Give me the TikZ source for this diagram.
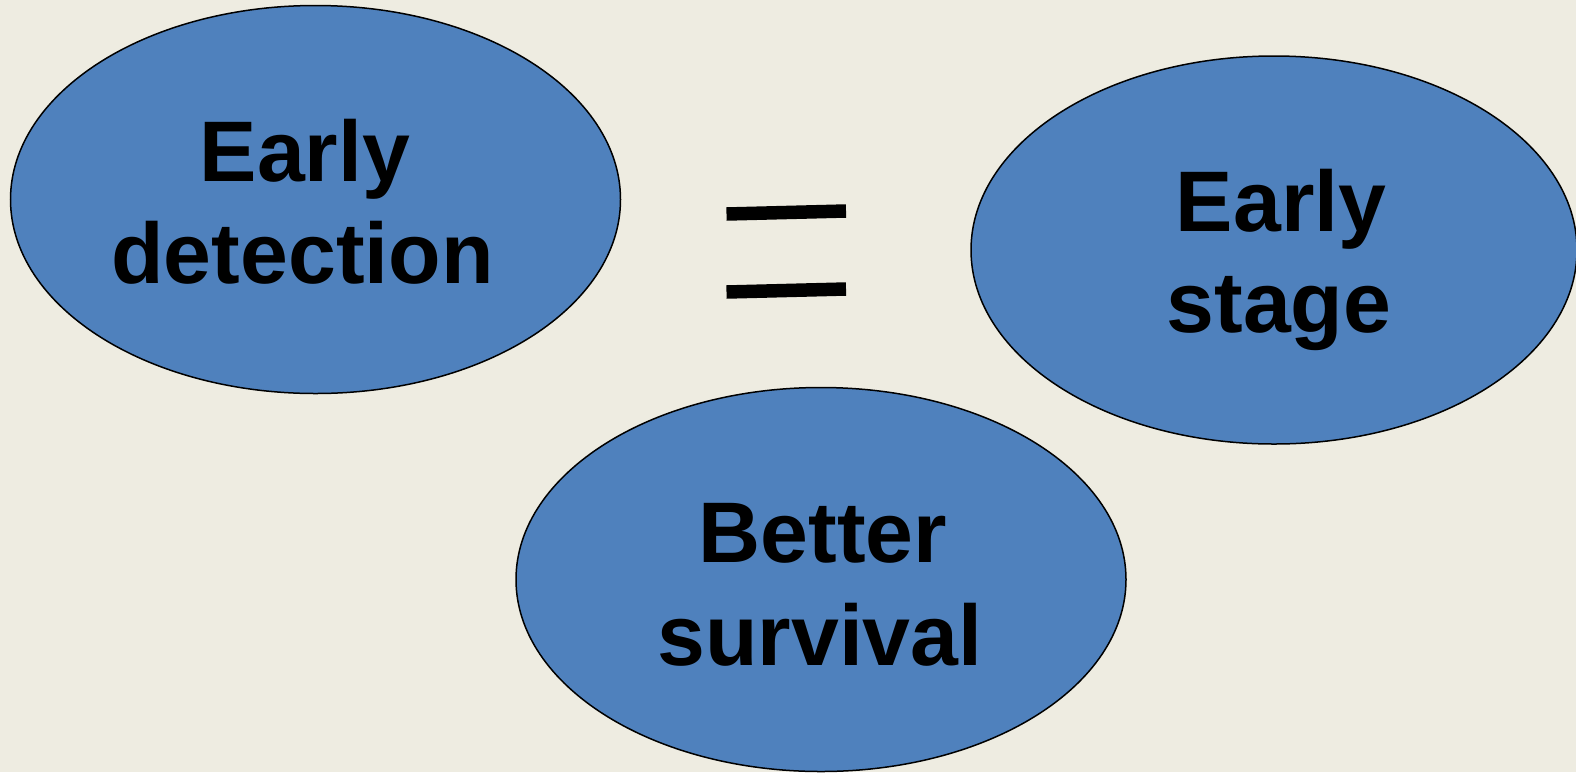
\documentclass[tikz,border=0pt]{standalone}
\usepackage{fontspec}
\setmainfont{Liberation Sans}
\usetikzlibrary{shapes.geometric}
\definecolor{bgtan}{HTML}{EEECE1}
\definecolor{blobblue}{HTML}{4F81BD}
\tikzset{
  blob/.style={ellipse, draw=black, line width=1.5pt, fill=blobblue, inner sep=0pt, minimum width=610pt, minimum height=388pt},
  lbl/.style={anchor=base, inner sep=0pt, font=\fontsize{86}{102}\selectfont\bfseries, text=black},
  eqbar/.style={line width=13.5pt, black}
}
\begin{document}
\begin{tikzpicture}[x=1pt,y=-1pt]
\useasboundingbox (0,0) rectangle (1576,772);
\fill[bgtan] (0,0) rectangle (1576,772);
\node[blob] (ed) at (315.5,199.5) {};
\node[blob, minimum width=606pt] (es) at (1274,250) {};
\node[blob, minimum height=384pt] (bs) at (821,579.5) {};
\node[lbl] (ed1) at (305,181) {Early};
\node[lbl] (ed2) at (302.5,283.3) {detection};
\node[lbl] (es1) at (1281,231) {Early};
\node[lbl] (es2) at (1279,332) {stage};
\node[lbl] (bs1) at (823,562.7) {Better};
\node[lbl] (bs2) at (820,665) {survival};
\coordinate (e1a) at (726.5,214);
\coordinate (e1b) at (846,211);
\coordinate (e2a) at (726.5,292);
\coordinate (e2b) at (846,289);
\draw[eqbar] (e1a) -- (e1b);
\draw[eqbar] (e2a) -- (e2b);
\end{tikzpicture}
\end{document}
